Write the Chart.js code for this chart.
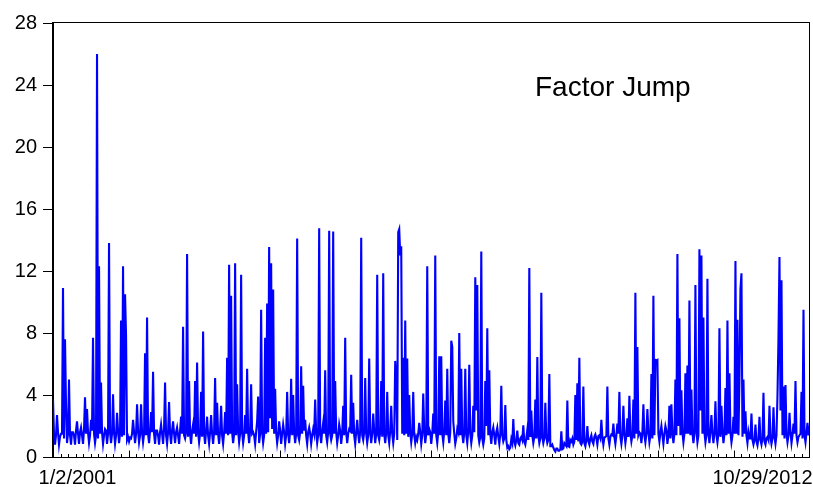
<!DOCTYPE html>
<html>
<head>
<meta charset="utf-8">
<script src="https://cdn.jsdelivr.net/npm/chart.js@4/dist/chart.umd.min.js"></script>
<style>
  html, body { margin: 0; padding: 0; background: #ffffff; }
  #wrap { width: 813px; height: 487px; position: relative; }
</style>
</head>
<body>
<div id="wrap"><canvas id="c" width="813" height="487"></canvas></div>
<script>
// ---- data ----
const seriesName = 'Factor Jump';
const dateLabels = ['1/2/2001', '10/29/2012'];   // first and last observation
const yTicks = [0, 4, 8, 12, 16, 20, 24, 28];
const obsPerPoint = 3.97;      // observations represented by each plotted value
const minorTickObs = 30;       // small x tick every 30 observations
const majorTickObs = 300;      // long x tick every 300 observations

// readings at the even sample positions
const jumpEven = [
  3.7, 0.8, 2.7, 0.8, 1.5, 10.9, 7.6, 0.9, 5.0, 0.8,
  1.6, 0.8, 2.3, 0.85, 1.9, 0.85, 3.85, 3.1, 0.9, 2.4,
  7.7, 0.9, 26.0, 12.3, 4.8, 0.85, 1.8, 0.85, 13.8, 0.9,
  4.05, 0.85, 2.85, 0.9, 8.8, 12.3, 10.5, 1.1, 1.0, 1.2,
  2.4, 0.9, 3.4, 0.95, 3.4, 0.95, 6.7, 9.0, 0.9, 2.9,
  5.5, 0.85, 1.7, 0.8, 2.1, 0.85, 4.8, 0.85, 3.55, 0.85,
  2.3, 0.9, 1.9, 0.85, 2.6, 8.4, 1.2, 13.1, 4.9, 0.85,
  2.1, 4.9, 6.1, 0.95, 4.2, 8.1, 0.85, 2.6, 0.85, 2.7,
  0.85, 5.1, 3.5, 0.85, 3.3, 0.85, 2.9, 6.4, 12.4, 10.4,
  0.9, 12.5, 4.7, 0.95, 11.75, 0.9, 2.7, 5.7, 0.9, 4.7,
  1.6, 0.85, 2.3, 0.9, 9.5, 0.9, 7.7, 9.9, 13.55, 12.5,
  10.8, 4.4, 0.9, 2.3, 0.85, 2.1, 0.85, 4.2, 0.9, 5.05,
  4.0, 0.9, 14.1, 1.1, 5.85, 4.6, 2.4, 0.85, 1.9, 0.85,
  1.8, 3.7, 0.9, 14.75, 0.9, 2.2, 5.6, 0.95, 14.6, 1.1,
  14.55, 4.9, 0.9, 2.1, 0.85, 3.3, 7.7, 0.9, 1.8, 5.3,
  3.5, 0.85, 2.4, 0.9, 14.15, 1.1, 5.1, 0.9, 6.35, 0.9,
  2.8, 0.9, 11.75, 1.1, 4.9, 11.85, 0.9, 4.2, 0.9, 3.3,
  0.9, 6.2, 1.1, 14.7, 13.6, 6.4, 8.8, 6.35, 4.0, 0.95,
  4.2, 0.9, 1.1, 2.2, 0.85, 4.1, 0.9, 12.3, 1.8, 0.85,
  2.8, 13.0, 0.9, 6.5, 6.5, 0.95, 3.65, 5.7, 0.9, 7.5,
  2.3, 0.85, 1.8, 8.0, 5.7, 0.9, 5.7, 0.9, 5.95, 0.9,
  3.3, 11.6, 11.1, 0.95, 13.25, 0.8, 4.9, 8.3, 5.6, 0.85,
  1.9, 0.8, 1.9, 0.85, 4.6, 1.0, 3.35, 0.6, 0.5, 1.15,
  2.45, 0.75, 1.7, 0.8, 1.3, 2.05, 0.8, 1.75, 12.2, 3.0,
  0.9, 3.7, 6.45, 0.9, 10.6, 0.9, 3.5, 0.9, 5.35, 0.7,
  0.6, 0.35, 0.55, 0.4, 1.65, 0.55, 0.8, 3.65, 0.65, 1.0,
  0.8, 4.0, 4.75, 6.4, 0.8, 4.55, 0.7, 2.0, 0.8, 1.4,
  0.85, 1.45, 0.8, 1.4, 2.4, 0.8, 1.3, 4.55, 0.8, 1.45,
  2.15, 0.85, 2.15, 4.2, 0.85, 3.3, 0.9, 2.5, 3.95, 1.0,
  3.7, 10.6, 7.1, 1.6, 0.9, 3.4, 0.95, 3.1, 0.95, 5.35,
  10.4, 6.25, 6.25, 1.0, 2.0, 0.85, 2.0, 0.85, 3.3, 3.4,
  0.9, 5.0, 13.1, 8.95, 4.3, 0.95, 5.4, 5.9, 10.1, 4.35,
  0.9, 11.1, 0.95, 13.4, 13.0, 9.0, 0.95, 11.5, 0.9, 2.7,
  0.9, 3.6, 0.95, 8.3, 3.3, 0.9, 4.45, 8.8, 5.4, 0.95,
  2.6, 12.65, 8.85, 5.0, 11.85, 5.0, 2.95, 0.9, 1.2, 2.8,
  0.8, 2.1, 0.75, 2.6, 0.8, 4.15, 0.8, 1.3, 3.3, 0.85,
  3.2, 0.85, 3.95, 12.9, 11.4, 4.55, 4.65, 0.95, 2.85, 0.9,
  2.15, 4.9, 0.95, 1.4, 4.2, 9.5, 0.95, 2.2, 2.0
];

// readings at the odd sample positions (between the even ones)
const jumpOdd = [
  1.5, 1.4, 1.6, 1.3, 1.5, 1.2, 3.4, 1.5, 1.4, 1.6,
  1.4, 1.7, 1.5, 1.6, 1.4, 1.8, 1.5, 1.6, 1.4, 1.7,
  1.5, 1.4, 1.2, 1.5, 1.6, 1.4, 1.7, 1.5, 1.6, 1.5,
  1.6, 1.4, 1.7, 1.5, 1.3, 1.4, 7.8, 1.3, 1.25, 1.5,
  1.6, 1.5, 1.7, 1.4, 1.6, 1.5, 1.4, 1.5, 1.7, 1.6,
  1.5, 1.7, 1.4, 1.6, 1.5, 1.8, 1.4, 1.6, 1.5, 1.7,
  1.5, 1.6, 1.4, 1.7, 1.5, 1.4, 1.6, 1.3, 1.5, 1.7,
  1.5, 1.3, 1.6, 1.5, 1.3, 1.5, 1.7, 1.4, 1.6, 1.5,
  1.6, 1.4, 1.5, 1.7, 1.4, 1.6, 1.5, 1.4, 1.5, 1.6,
  1.5, 1.4, 1.7, 1.5, 1.6, 1.4, 1.5, 1.6, 1.7, 1.5,
  1.4, 1.6, 3.9, 1.5, 1.6, 1.4, 1.5, 1.6, 2.5, 1.8,
  1.5, 1.6, 1.4, 1.7, 1.5, 1.6, 1.4, 1.5, 1.7, 1.4,
  1.6, 1.5, 1.4, 1.6, 1.5, 1.7, 1.4, 1.6, 1.5, 1.4,
  1.5, 1.6, 1.4, 1.5, 1.7, 1.5, 1.4, 1.6, 1.5, 1.4,
  1.5, 1.6, 1.4, 1.7, 1.5, 1.4, 1.6, 1.5, 1.7, 1.5,
  1.4, 1.6, 1.5, 1.7, 1.4, 1.6, 1.5, 1.4, 1.6, 1.5,
  1.7, 1.5, 1.4, 1.6, 1.3, 1.5, 1.6, 1.4, 1.7, 1.5,
  1.5, 4.9, 14.5, 13.0, 1.5, 1.4, 1.5, 1.3, 1.6, 1.5,
  1.4, 1.3, 1.5, 1.6, 1.4, 1.7, 1.5, 1.4, 1.6, 1.5,
  1.5, 1.4, 1.6, 1.4, 1.5, 1.7, 1.4, 1.5, 1.6, 7.1,
  1.5, 1.2, 1.6, 1.4, 1.5, 1.6, 1.4, 1.7, 1.5, 1.4,
  1.6, 3.0, 1.4, 1.3, 1.2, 1.2, 2.0, 1.4, 1.5, 1.6,
  1.4, 1.6, 1.3, 1.5, 1.4, 1.2, 1.1, 0.7, 0.6, 0.9,
  1.0, 1.1, 0.9, 1.2, 1.1, 1.0, 1.2, 1.1, 1.3, 1.4,
  1.3, 1.2, 1.4, 1.2, 1.3, 1.2, 1.3, 1.1, 0.7, 0.8,
  0.45, 0.55, 0.4, 0.5, 0.5, 0.9, 0.7, 0.7, 1.1, 1.2,
  1.0, 1.1, 1.0, 0.9, 1.0, 0.9, 1.1, 1.0, 1.2, 1.0,
  1.3, 1.2, 1.35, 1.2, 1.3, 1.25, 1.35, 1.2, 1.3, 1.4,
  1.3, 1.4, 1.5, 1.3, 1.4, 1.5, 1.4, 1.3, 1.5, 1.4,
  1.2, 1.5, 1.4, 1.5, 1.6, 1.4, 1.5, 1.6, 1.4, 1.2,
  1.4, 6.2, 1.5, 1.6, 1.4, 1.5, 1.7, 1.4, 1.2, 1.6,
  1.5, 1.4, 2.0, 1.4, 1.6, 1.5, 1.5, 1.5, 1.4, 1.6,
  1.5, 1.7, 1.4, 3.0, 1.5, 1.6, 1.4, 1.5, 1.7, 1.5,
  1.6, 1.4, 1.5, 1.3, 1.7, 1.5, 1.4, 1.5, 1.6, 1.4,
  1.5, 1.5, 1.4, 10.8, 1.3, 1.5, 1.4, 1.6, 1.2, 1.1,
  1.1, 1.0, 1.2, 1.1, 1.2, 1.0, 1.2, 1.1, 1.3, 1.2,
  1.3, 1.4, 7.7, 3.0, 1.4, 1.2, 1.5, 1.4, 1.6, 1.4,
  1.5, 1.4, 1.3, 1.5, 1.2, 1.4, 1.6, 1.4
];

// ---- chart ----
const FONT = '"Liberation Sans", Arial, Helvetica, sans-serif';
const series = [];
jumpEven.forEach((v, i) => {
  series.push(v);
  if (i < jumpOdd.length) series.push(jumpOdd[i]);
});
const points = series.map((v, i) => ({ x: i, y: v }));
const xMax = series.length - 0.5;

const framePlugin = {
  id: 'eviewsFrame',
  afterDraw(chart) {
    const { ctx, chartArea: a, scales } = chart;
    const xs = scales.x;
    ctx.save();
    ctx.strokeStyle = '#000000';
    ctx.lineWidth = 1;
    ctx.strokeRect(Math.round(a.left) - 0.5, Math.round(a.top) - 0.5,
                   Math.round(a.right - a.left), Math.round(a.bottom - a.top) + 1);
    // x ticks pointing up inside the frame
    const bottom = Math.round(a.bottom) + 0.5;
    for (let obs = 0; obs / obsPerPoint <= xMax; obs += minorTickObs) {
      const px = Math.round(xs.getPixelForValue(obs / obsPerPoint)) + 0.5;
      if (px < a.left || px > a.right) continue;
      const len = (obs % majorTickObs === 0) ? 7 : 3.5;
      ctx.beginPath();
      ctx.moveTo(px, bottom);
      ctx.lineTo(px, bottom - len);
      ctx.stroke();
    }
    // date labels
    ctx.fillStyle = '#000000';
    ctx.font = '20px ' + FONT;
    ctx.textBaseline = 'alphabetic';
    ctx.textAlign = 'center';
    ctx.fillText(dateLabels[0], a.left + 24.5, 484);
    ctx.textAlign = 'right';
    ctx.fillText(dateLabels[1], chart.width - 0.5, 484);
    // series name inside the plot
    ctx.textAlign = 'left';
    ctx.font = '28px ' + FONT;
    ctx.fillText(seriesName, 535, 96);
    ctx.restore();
  }
};

new Chart(document.getElementById('c'), {
  type: 'line',
  data: {
    datasets: [{
      label: seriesName,
      data: points,
      borderColor: '#0000FF',
      borderWidth: 2.1,
      pointRadius: 0,
      tension: 0,
      fill: false
    }]
  },
  options: {
    responsive: false,
    animation: false,
    events: [],
    layout: { padding: { top: 23, right: 3, left: 0, bottom: 0 } },
    plugins: { legend: { display: false }, title: { display: false }, tooltip: { enabled: false } },
    scales: {
      x: {
        type: 'linear',
        min: 0,
        max: xMax,
        grid: { display: false },
        border: { display: false },
        ticks: { display: false },
        afterFit(s) { s.height = 30; }
      },
      y: {
        min: yTicks[0],
        max: yTicks[yTicks.length - 1],
        afterBuildTicks(s) { s.ticks = yTicks.map(v => ({ value: v })); },
        grid: { drawOnChartArea: false, drawTicks: true, tickLength: 10, color: '#000000', lineWidth: 1 },
        border: { display: true, color: '#000000', width: 1 },
        ticks: { color: '#000000', padding: 6, font: { family: FONT, size: 20 } },
        afterFit(s) { s.width = 53; }
      }
    }
  },
  plugins: [framePlugin]
});
</script>
</body>
</html>
